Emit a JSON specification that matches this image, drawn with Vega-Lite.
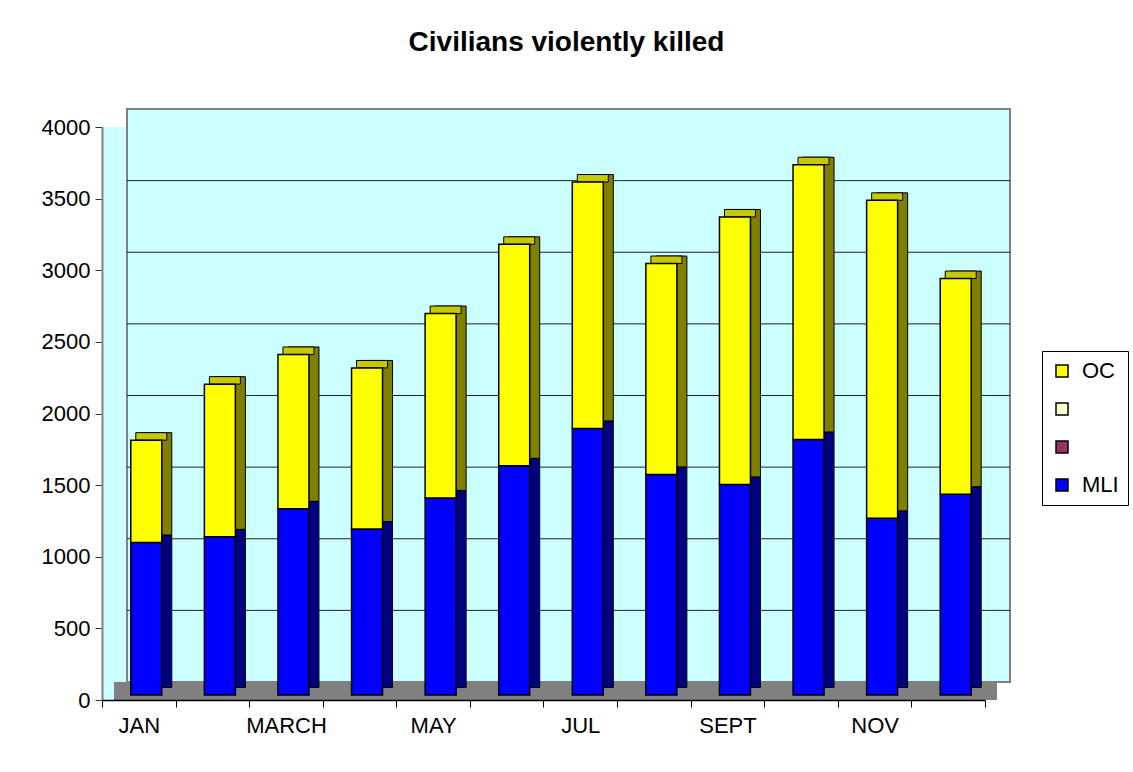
{
  "$schema": "https://vega.github.io/schema/vega-lite/v6.json",
  "width": 883,
  "height": 573,
  "autosize": {"type": "none"},
  "padding": {"left": 102, "top": 127, "right": 148, "bottom": 72},
  "background": "white",
  "title": {
    "text": "Civilians violently killed",
    "fontSize": 28,
    "fontWeight": "bold",
    "font": "Liberation Sans",
    "anchor": "middle",
    "frame": "group",
    "dx": 23,
    "offset": 51,
    "color": "black"
  },
  "data": {
    "values": [
      {"month": "JAN", "series": "MLI", "value": 1065},
      {"month": "JAN", "series": "OC", "value": 714},
      {"month": "FEB", "series": "MLI", "value": 1104},
      {"month": "FEB", "series": "OC", "value": 1066},
      {"month": "MARCH", "series": "MLI", "value": 1300},
      {"month": "MARCH", "series": "OC", "value": 1077},
      {"month": "APRIL", "series": "MLI", "value": 1158},
      {"month": "APRIL", "series": "OC", "value": 1125},
      {"month": "MAY", "series": "MLI", "value": 1376},
      {"month": "MAY", "series": "OC", "value": 1287},
      {"month": "JUNE", "series": "MLI", "value": 1600},
      {"month": "JUNE", "series": "OC", "value": 1546},
      {"month": "JUL", "series": "MLI", "value": 1861},
      {"month": "JUL", "series": "OC", "value": 1720},
      {"month": "AUG", "series": "MLI", "value": 1540},
      {"month": "AUG", "series": "OC", "value": 1472},
      {"month": "SEPT", "series": "MLI", "value": 1470},
      {"month": "SEPT", "series": "OC", "value": 1867},
      {"month": "OCT", "series": "MLI", "value": 1784},
      {"month": "OCT", "series": "OC", "value": 1918},
      {"month": "NOV", "series": "MLI", "value": 1233},
      {"month": "NOV", "series": "OC", "value": 2220},
      {"month": "DEC", "series": "MLI", "value": 1402},
      {"month": "DEC", "series": "OC", "value": 1505}
    ]
  },
  "layer": [
    {
      "data": {"values": [{}]},
      "mark": {"type": "rect", "fill": "#CCFFFF", "stroke": "#808080", "strokeWidth": 2, "xOffset": 25, "x2Offset": 25, "yOffset": -18, "y2Offset": -18},
      "encoding": {
        "x": {"datum": "JAN", "type": "nominal", "bandPosition": 0},
        "x2": {"datum": "DEC", "bandPosition": 1},
        "y": {"datum": 0, "type": "quantitative", "title": null},
        "y2": {"datum": 4000}
      }
    },
    {
      "data": {"values": [{"g": 500}, {"g": 1000}, {"g": 1500}, {"g": 2000}, {"g": 2500}, {"g": 3000}, {"g": 3500}]},
      "mark": {"type": "rule", "color": "#222222", "strokeWidth": 1, "xOffset": 25, "x2Offset": 25, "yOffset": -18},
      "encoding": {
        "x": {"datum": "JAN", "type": "nominal", "bandPosition": 0},
        "x2": {"datum": "DEC", "bandPosition": 1},
        "y": {"field": "g", "type": "quantitative", "title": null}
      }
    },
    {
      "data": {"values": [{}]},
      "mark": {"type": "rect", "fill": "#808080", "xOffset": 12, "x2Offset": 12},
      "encoding": {
        "x": {"datum": "JAN", "type": "nominal", "bandPosition": 0},
        "x2": {"datum": "DEC", "bandPosition": 1},
        "y": {"datum": 0, "type": "quantitative", "title": null},
        "y2": {"datum": 126}
      }
    },
    {
      "mark": {"type": "bar", "size": 31, "xOffset": 17.5, "yOffset": -12.5, "y2Offset": -12.5, "stroke": "black", "strokeWidth": 1},
      "encoding": {
        "x": {"field": "month", "type": "nominal"},
        "y": {"field": "value", "type": "quantitative", "stack": "zero", "title": null},
        "fill": {"field": "series", "type": "nominal", "scale": {"domain": ["MLI", "OC"], "range": ["#000080", "#808000"]}, "legend": null},
        "order": {"field": "series", "sort": "ascending"}
      }
    },
    {
      "mark": {"type": "tick", "size": 31, "thickness": 7.5, "xOffset": 12.5, "yOffset": -8.75, "color": "#C8C800", "stroke": "black", "strokeWidth": 1, "opacity": 1},
      "encoding": {
        "x": {"field": "month", "type": "nominal"},
        "y": {"aggregate": "sum", "field": "value", "type": "quantitative", "title": null}
      }
    },
    {
      "mark": {"type": "bar", "size": 31, "xOffset": 7.5, "yOffset": -5, "y2Offset": -5, "stroke": "black", "strokeWidth": 1.5},
      "encoding": {
        "x": {
          "field": "month",
          "type": "nominal",
          "scale": {"domain": ["JAN", "FEB", "MARCH", "APRIL", "MAY", "JUNE", "JUL", "AUG", "SEPT", "OCT", "NOV", "DEC"], "paddingInner": 0, "paddingOuter": 0},
          "axis": {
            "title": null,
            "labelAngle": 0,
            "labelAlign": "center",
            "tickBand": "extent",
            "labelExpr": "indexof(['JAN','MARCH','MAY','JUL','SEPT','NOV'], datum.value) >= 0 ? datum.value : ''",
            "domainColor": "black",
            "domainWidth": 1.5,
            "tickColor": "black",
            "tickWidth": 1,
            "tickSize": 7,
            "labelPadding": 18,
            "labelFontSize": 22,
            "labelColor": "black"
          }
        },
        "y": {
          "field": "value",
          "type": "quantitative",
          "stack": "zero",
          "title": null,
          "scale": {"domain": [0, 4000], "nice": false},
          "axis": {
            "values": [0, 500, 1000, 1500, 2000, 2500, 3000, 3500, 4000],
            "format": "d",
            "grid": false,
            "domainColor": "#808080",
            "domainWidth": 2,
            "tickColor": "#333333",
            "tickWidth": 1,
            "tickSize": 7,
            "labelPadding": 5,
            "labelFontSize": 22,
            "labelColor": "black"
          }
        },
        "color": {
          "field": "series",
          "type": "nominal",
          "scale": {"domain": ["OC", " ", "  ", "MLI"], "range": ["#FFFF00", "#FFFFCC", "#993366", "#0000FF"]},
          "legend": {
            "title": null,
            "orient": "none",
            "legendX": 940,
            "legendY": 224,
            "symbolType": "square",
            "symbolSize": 144,
            "symbolStrokeColor": "black",
            "symbolStrokeWidth": 1.5,
            "labelFontSize": 22,
            "labelColor": "black",
            "labelOffset": 9,
            "padding": 9,
            "rowPadding": 16,
            "strokeColor": "black",
            "fillColor": "white"
          }
        },
        "order": {"field": "series", "sort": "ascending"}
      }
    }
  ],
  "config": {
    "font": "Liberation Sans",
    "view": {"fill": "#CCFFFF", "stroke": null},
    "axis": {"labelFont": "Liberation Sans"},
    "legend": {"labelFont": "Liberation Sans"}
  }
}
